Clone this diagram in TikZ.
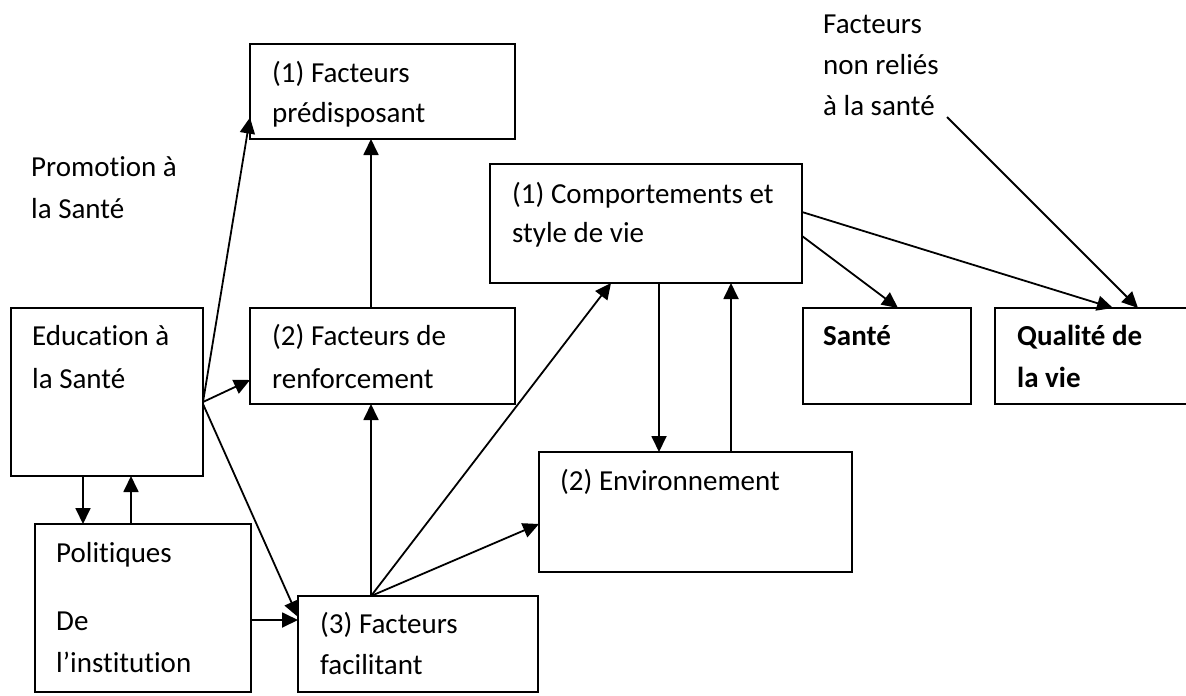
\documentclass[tikz,border=0pt]{standalone}
\usepackage{fontspec}
\setmainfont[Ligatures={NoCommon}]{Carlito}
\usetikzlibrary{arrows.meta}
\begin{document}
\begin{tikzpicture}[x=1pt,y=-1pt,
  box/.style={draw, line width=2.2pt, rectangle, anchor=north west, inner sep=0pt, outer sep=0pt},
  txt/.style={anchor=base west, inner sep=0pt, font=\fontsize{29}{35}\selectfont},
  btxt/.style={txt, font=\fontsize{29}{35}\selectfont\bfseries},
  arr/.style={line width=1.8pt, -{Triangle[length=16pt,width=15pt]}}
]
\useasboundingbox (0,0) rectangle (1186,696);
\clip (0,0) rectangle (1186,696);
\fill[white] (0,0) rectangle (1186,696);

% boxes
\node[box, minimum width=265pt, minimum height=95pt] (pred) at (250,44) {};
\node[box, minimum width=312pt, minimum height=119pt] (comp) at (490,164) {};
\node[box, minimum width=192pt, minimum height=168pt] (edu) at (11,308) {};
\node[box, minimum width=265pt, minimum height=96pt] (renf) at (250,308) {};
\node[box, minimum width=168pt, minimum height=96pt] (sante) at (803,308) {};
\node[box, minimum width=210pt, minimum height=96pt] (qual) at (995,308) {};
\node[box, minimum width=313pt, minimum height=120pt] (env) at (539,452) {};
\node[box, minimum width=216pt, minimum height=168pt] (pol) at (35,524) {};
\node[box, minimum width=240pt, minimum height=96pt] (fac) at (298,596) {};

% texts
\node[txt] (promoA) at (31,176) {Promotion à};
\node[txt] (promoB) at (31,218) {la Santé};
\node[txt] (nrA) at (823,33) {Facteurs};
\node[txt] (nrB) at (823,74) {non reliés};
\node[txt] (nrC) at (823,115) {à la santé};
\node[txt] (predA) at (272,82) {(1) Facteurs};
\node[txt] (predB) at (272,122) {prédisposant};
\node[txt] (compA) at (512,203) {(1) Comportements et};
\node[txt] (compB) at (512,242) {style de vie};
\node[txt] (eduA) at (32,345) {Education à};
\node[txt] (eduB) at (32,388) {la Santé};
\node[txt] (renfA) at (272,345) {(2) Facteurs de};
\node[txt] (renfB) at (272,388) {renforcement};
\node[btxt] (santeA) at (823,345) {Santé};
\node[btxt] (qualA) at (1017,345) {Qualité de};
\node[btxt] (qualB) at (1017,387) {la vie};
\node[txt] (envA) at (560,490) {(2) Environnement};
\node[txt] (polA) at (56,562) {Politiques};
\node[txt] (polB) at (56,630) {De};
\node[txt] (polC) at (56,672) {l’institution};
\node[txt] (facA) at (320,633) {(3) Facteurs};
\node[txt] (facB) at (320,674) {facilitant};

\coordinate (nrStart) at (947,117);

% connectors
\draw[arr] ([yshift=-10pt]edu.east) -- ([yshift=-26pt]pred.west);
\draw[arr] ([yshift=-10pt]edu.east) -- ([yshift=-24pt]renf.west);
\draw[arr] ([yshift=-12pt]edu.east) -- ([yshift=27pt]fac.west);
\draw[arr] ([yshift=-12pt]pol.east) -- ([yshift=24pt]fac.west);
\draw[arr] ([xshift=-24pt]edu.south) -- ([xshift=-24pt]edu.south |- pol.north);
\draw[arr] ([xshift=24pt]edu.south |- pol.north) -- ([xshift=24pt]edu.south);
\draw[arr] ([xshift=-47pt]fac.north) -- ([xshift=-11.5pt]renf.south);
\draw[arr] ([xshift=-11.5pt]renf.north) -- ([xshift=-11.5pt]pred.south);
\draw[arr] ([xshift=-47pt]fac.north) -- ([xshift=-35pt]comp.south);
\draw[arr] ([xshift=-47pt]fac.north) -- ([yshift=-12pt]env.west);
\draw[arr] ([xshift=13pt]comp.south) -- ([xshift=13pt]comp.south |- env.north);
\draw[arr] ([xshift=85pt]comp.south |- env.north) -- ([xshift=85pt]comp.south);
\draw[arr] ([yshift=-12.5pt]comp.east) -- ([xshift=11pt]sante.north);
\draw[arr] ([yshift=11.5pt]comp.east) -- ([xshift=13pt]qual.north);
\draw[arr] (nrStart) -- ([xshift=38pt]qual.north);
\end{tikzpicture}
\end{document}
